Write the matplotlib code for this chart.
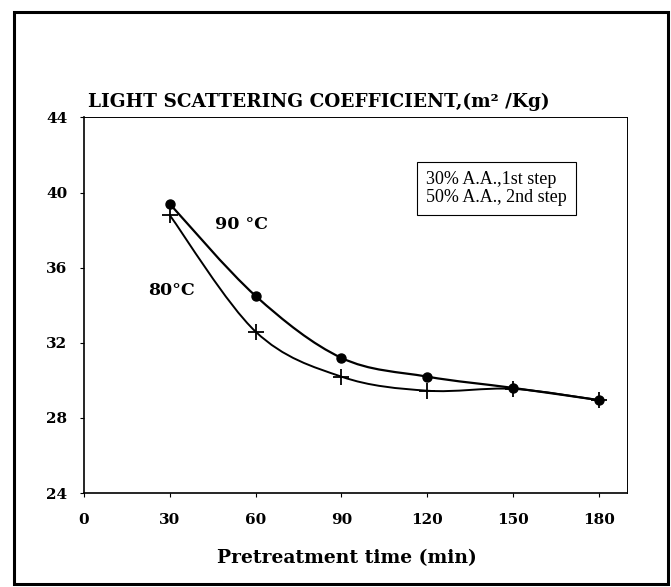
import matplotlib
matplotlib.use('Agg')
import matplotlib.pyplot as plt
from matplotlib.path import Path
from matplotlib.patches import PathPatch, Rectangle

# data
time_min = [30, 60, 90, 120, 150, 180]
lsc_90 = [39.4, 34.5, 31.2, 30.2, 29.6, 28.95]
lsc_80 = [38.8, 32.6, 30.2, 29.45, 29.55, 28.95]
xticks = [0, 30, 60, 90, 120, 150, 180]
yticks = [24, 28, 32, 36, 40, 44]

plt.rcParams['font.family'] = ['DejaVu Serif']


def smooth_path(x, y):
    """excel-like smoothed line as a bezier path through the points"""
    verts = [(x[0], y[0])]
    codes = [Path.MOVETO]
    n = len(x)
    for i in range(n - 1):
        xa, ya = (x[i - 1], y[i - 1]) if i > 0 else (x[i], y[i])
        xb, yb = (x[i + 2], y[i + 2]) if i + 2 < n else (x[i + 1], y[i + 1])
        c1 = (x[i] + (x[i + 1] - xa) / 6, y[i] + (y[i + 1] - ya) / 6)
        c2 = (x[i + 1] - (xb - x[i]) / 6, y[i + 1] - (yb - y[i]) / 6)
        verts += [c1, c2, (x[i + 1], y[i + 1])]
        codes += [Path.CURVE4] * 3
    return Path(verts, codes)


fig = plt.figure(figsize=(6.71, 5.87), dpi=100)
ax = fig.add_axes([0.125, 0.16, 0.81, 0.64])

ax.add_patch(PathPatch(smooth_path(time_min, lsc_90), fill=False, lw=1.6, color='black'))
ax.add_patch(PathPatch(smooth_path(time_min, lsc_80), fill=False, lw=1.4, color='black'))
ax.plot(time_min, lsc_90, 'o', color='black', ms=6.5, ls='none')
ax.plot(time_min, lsc_80, '+', color='black', ms=12, mew=1.3, ls='none')

ax.set_xlim(0, 190)
ax.set_ylim(24, 44)
ax.set_xticks(xticks)
ax.set_yticks(yticks)
ax.tick_params(axis='both', direction='out', length=3, width=0.8, labelsize=11)
ax.tick_params(axis='x', pad=11)
ax.tick_params(axis='y', pad=9)
for lab in ax.get_xticklabels() + ax.get_yticklabels():
    lab.set_fontweight('bold')
for side in ['top', 'right']:
    ax.spines[side].set_linewidth(0.7)
for side in ['left', 'bottom']:
    ax.spines[side].set_linewidth(1.2)

ax.set_xlabel('Pretreatment time (min)', fontsize=13.5, fontweight='bold', labelpad=9)
ax.xaxis.set_label_coords(0.483, -0.15)
fig.text(0.131, 0.826, 'LIGHT SCATTERING COEFFICIENT,(m² /Kg)', fontsize=13.3,
         fontweight='bold', ha='left', va='center')

ax.text(0.63, 0.81, '30% A.A.,1st step\n50% A.A., 2nd step', transform=ax.transAxes,
        fontsize=13, family='Liberation Serif', ha='left', va='center', linespacing=1.1,
        bbox=dict(boxstyle='square,pad=0.5', fc='white', ec='black', lw=0.8))
ax.text(46, 38.3, '90 °C', fontsize=12.5, fontweight='bold', ha='left', va='center')
ax.text(22.5, 34.8, '80°C', fontsize=12.5, fontweight='bold', ha='left', va='center')

# outer frame of the figure
fig.patches.append(Rectangle((0.021, 0.005), 0.974, 0.975, transform=fig.transFigure,
                             fill=False, ec='black', lw=2.2))

fig.savefig('out.png', dpi=100)
